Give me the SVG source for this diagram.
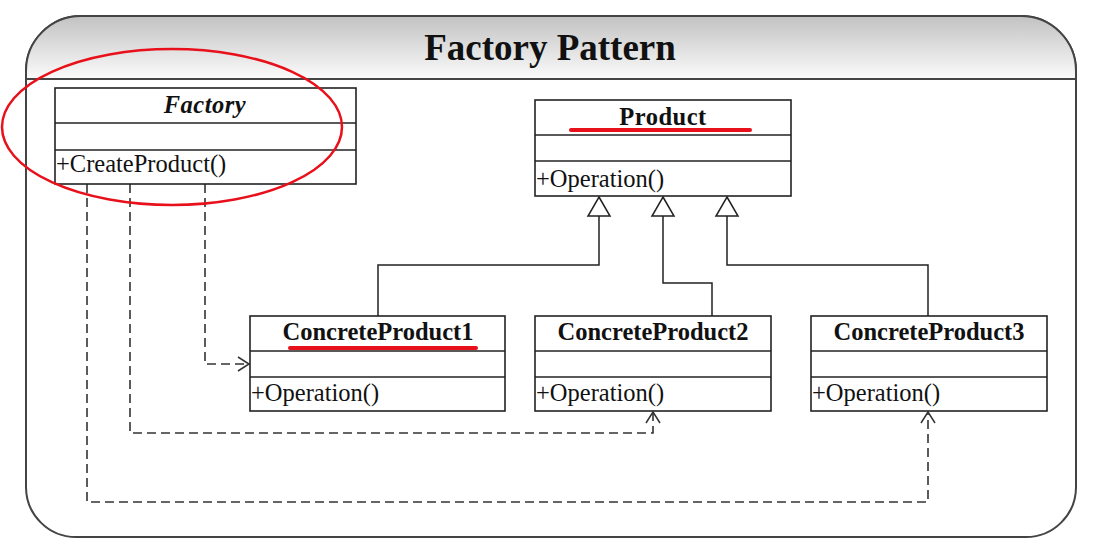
<svg xmlns="http://www.w3.org/2000/svg" width="1096" height="553" viewBox="0 0 1096 553">
<style>
.box{fill:#fff;stroke:#222;stroke-width:1.6}
.sep{stroke:#222;stroke-width:1.6}
.t{font-family:"Liberation Serif","Times New Roman",serif;fill:#111}
.hd{font-weight:bold;font-size:24.5px;text-anchor:middle}
.op{font-size:24.5px}
.gen{fill:none;stroke:#222;stroke-width:1.5}
.dep{fill:none;stroke:#333;stroke-width:1.6;stroke-dasharray:9 5}
.tri{fill:#fff;stroke:#222;stroke-width:1.5}
.red{stroke:#e8101a;stroke-width:4;stroke-linecap:round}
</style>
<defs>
<linearGradient id="hg" x1="0" y1="0" x2="0" y2="1">
<stop offset="0" stop-color="#c2c2c2"/>
<stop offset="1" stop-color="#fbfbfb"/>
</linearGradient>
<marker id="oa" markerWidth="14" markerHeight="16" refX="12" refY="8" orient="auto" markerUnits="userSpaceOnUse">
<path d="M1,1 L12,8 L1,15" fill="none" stroke="#333" stroke-width="1.5" stroke-dasharray="none"/>
</marker>
</defs>
<g id="frame">
<path d="M81,16 H1021 A55,55 0 0 1 1076,71 V487 A50,50 0 0 1 1026,537 H76 A50,50 0 0 1 26,487 V71 A55,55 0 0 1 81,16 Z" fill="#fff" stroke="#444" stroke-width="2"/>
<path d="M26,79 V71 A55,55 0 0 1 81,16 H1021 A55,55 0 0 1 1076,71 V79 Z" fill="url(#hg)" stroke="#444" stroke-width="2"/>
<text class="t" x="550" y="60" font-size="37" font-weight="bold" text-anchor="middle">Factory Pattern</text>
</g>
<g id="connectors">
<path class="gen" d="M599,216 V265 H378 V316"/>
<path class="gen" d="M663,216 V283 H712 V316"/>
<path class="gen" d="M727,216 V265 H928 V316"/>
<path class="tri" d="M599,197 L610,216 L588,216 Z"/>
<path class="tri" d="M663,197 L674,216 L652,216 Z"/>
<path class="tri" d="M727,197 L738,216 L716,216 Z"/>
<path class="dep" d="M205,184 V364 H249" marker-end="url(#oa)"/>
<path class="dep" d="M130,184 V433 H653 V412" marker-end="url(#oa)"/>
<path class="dep" d="M87,184 V502 H928 V412" marker-end="url(#oa)"/>
</g>
<g id="Factory">
<rect class="box" x="55" y="88" width="301" height="96"/>
<line class="sep" x1="55" y1="123" x2="356" y2="123"/>
<line class="sep" x1="55" y1="150" x2="356" y2="150"/>
<text class="t hd" x="205" y="113" font-style="italic" letter-spacing="0.5">Factory</text>
<text class="t op" x="56" y="172">+CreateProduct()</text>
</g>
<g id="Product">
<rect class="box" x="535" y="100" width="256" height="96"/>
<line class="sep" x1="535" y1="135" x2="791" y2="135"/>
<line class="sep" x1="535" y1="161" x2="791" y2="161"/>
<text class="t hd" x="663" y="125" letter-spacing="0.5">Product</text>
<text class="t op" x="536" y="187">+Operation()</text>
</g>
<g id="ConcreteProduct1">
<rect class="box" x="250" y="316" width="255" height="95"/>
<line class="sep" x1="250" y1="351" x2="505" y2="351"/>
<line class="sep" x1="250" y1="377" x2="505" y2="377"/>
<text class="t hd" x="378" y="340">ConcreteProduct1</text>
<text class="t op" x="251" y="401">+Operation()</text>
</g>
<g id="ConcreteProduct2">
<rect class="box" x="535" y="316" width="236" height="95"/>
<line class="sep" x1="535" y1="351" x2="771" y2="351"/>
<line class="sep" x1="535" y1="377" x2="771" y2="377"/>
<text class="t hd" x="653" y="340">ConcreteProduct2</text>
<text class="t op" x="536" y="401">+Operation()</text>
</g>
<g id="ConcreteProduct3">
<rect class="box" x="811" y="316" width="236" height="95"/>
<line class="sep" x1="811" y1="351" x2="1047" y2="351"/>
<line class="sep" x1="811" y1="377" x2="1047" y2="377"/>
<text class="t hd" x="929" y="340">ConcreteProduct3</text>
<text class="t op" x="812" y="401">+Operation()</text>
</g>
<g id="annotations">
<ellipse cx="172" cy="127" rx="170" ry="78" fill="none" stroke="#e8101a" stroke-width="2.5"/>
<line class="red" x1="571" y1="130" x2="750" y2="130"/>
<line class="red" x1="290" y1="348" x2="476" y2="348"/>
</g>
</svg>
